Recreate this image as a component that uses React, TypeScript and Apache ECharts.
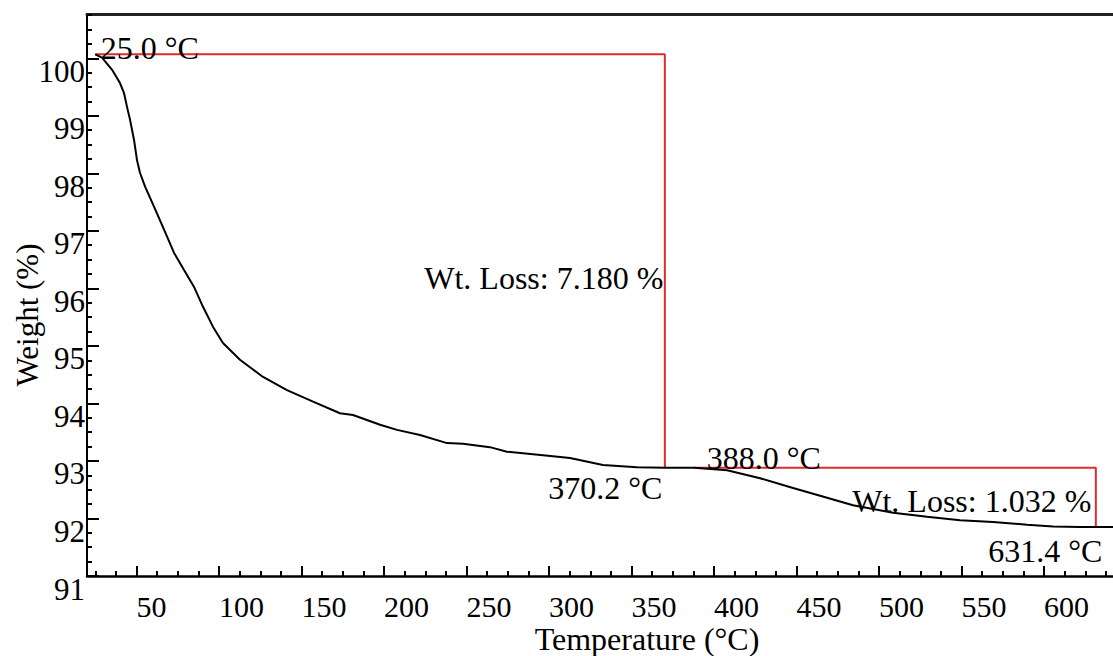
import React, { useEffect, useRef } from "react";
import * as echarts from "echarts";

// ---- Data ----
const temps = [25, 29.1, 35.2, 40, 42.4, 44.2, 46.1, 48.5, 50.3, 52.1, 55.2, 60.6, 66.7, 72.7, 78.8, 84.8, 90.3, 96.4, 102.4, 112.7, 126.7, 141.2, 157, 173.3, 181.2, 197.6, 207.9, 221.8, 238.2, 247.9, 264.2, 274.5, 296.4, 312.7, 332.7, 353.3, 370.2, 388, 407.9, 427.9, 447.9, 468.5, 484.2, 508.5, 529.1, 549.1, 569.1, 589.7, 605.5, 621.8, 631.4, 641.8];
const weights = [100.07, 100.01, 99.8, 99.57, 99.4, 99.16, 98.93, 98.58, 98.23, 98.01, 97.77, 97.42, 97.02, 96.62, 96.32, 96.03, 95.68, 95.33, 95.05, 94.76, 94.46, 94.23, 94.03, 93.83, 93.8, 93.63, 93.54, 93.45, 93.31, 93.3, 93.24, 93.16, 93.1, 93.05, 92.93, 92.89, 92.88, 92.88, 92.84, 92.7, 92.53, 92.36, 92.23, 92.1, 92.03, 91.97, 91.94, 91.89, 91.86, 91.85, 91.85, 91.85];

const loss1X = [25, 370.2, 370.2];
const loss1Y = [100.07, 100.07, 92.88];
const loss2X = [388, 631.4, 631.4];
const loss2Y = [92.88, 92.88, 91.85];

const annotationTexts = ["25.0 °C", "Wt. Loss: 7.180 %", "370.2 °C", "388.0 °C", "Wt. Loss: 1.032 %", "631.4 °C"];
const annotationT = [25, 370.2, 370.2, 388, 631.4, 631.4];
const annotationW = [100.07, 96.18, 92.88, 92.88, 91.85, 91.85];

const xMajorTicks = [50, 100, 150, 200, 250, 300, 350, 400, 450, 500, 550, 600];
const xMinorTicks = [25, 37.5, 50, 62.5, 75, 87.5, 100, 112.5, 125, 137.5, 150, 162.5, 175, 187.5, 200, 212.5, 225, 237.5, 250, 262.5, 275, 287.5, 300, 312.5, 325, 337.5, 350, 362.5, 375, 387.5, 400, 412.5, 425, 437.5, 450, 462.5, 475, 487.5, 500, 512.5, 525, 537.5, 550, 562.5, 575, 587.5, 600, 612.5, 625, 637.5];
const yMajorTicks = [91, 92, 93, 94, 95, 96, 97, 98, 99, 100];
const yMinorTicks = [91, 91.25, 91.5, 91.75, 92, 92.25, 92.5, 92.75, 93, 93.25, 93.5, 93.75, 94, 94.25, 94.5, 94.75, 95, 95.25, 95.5, 95.75, 96, 96.25, 96.5, 96.75, 97, 97.25, 97.5, 97.75, 98, 98.25, 98.5, 98.75, 99, 99.25, 99.5, 99.75, 100, 100.25, 100.5, 100.75];

const xTitle = "Temperature (°C)";
const yTitle = "Weight (%)";

const X_MIN = 20;
const X_MAX = 641.8;
const Y_MIN = 91;
const Y_MAX = 100.77;

const FONT = '"Liberation Serif", "Times New Roman", serif';
const TEXT = "#000";
const RED = "#e02b2b";

const labelLayouts: any[] = [
  { position: "right", distance: 5, offset: [0, -6] },
  { position: "left", distance: 1, offset: [0, 0] },
  { position: "left", distance: 2, offset: [0, 20] },
  { position: "right", distance: 12, offset: [0, -10] },
  { position: "left", distance: 4, offset: [0, -26] },
  { position: "left", distance: 0, offset: [7, 24] },
];

export default function App() {
  const ref = useRef<HTMLDivElement>(null);
  useEffect(() => {
    const chart = echarts.init(ref.current!, null, { renderer: "svg" });
    const curve = temps.map((t, i) => [t, weights[i]]);
    const loss1 = loss1X.map((t, i) => [t, loss1Y[i]]);
    const loss2 = loss2X.map((t, i) => [t, loss2Y[i]]);
    const annotations = annotationTexts.map((txt, i) => ({
      name: txt,
      value: [annotationT[i], annotationW[i]],
      label: { show: true, formatter: txt, ...labelLayouts[i] },
    }));

    const hiddenAxisCommon = {
      axisLabel: { show: false },
      splitLine: { show: false },
    };

    chart.setOption({
      animation: false,
      backgroundColor: "#fff",
      grid: { left: 87, right: 0, top: 14, bottom: 80, containLabel: false, outerBoundsMode: "none" },
      xAxis: [
        {
          type: "value",
          min: X_MIN,
          max: X_MAX,
          position: "bottom",
          axisLine: { show: true, onZero: false, lineStyle: { color: "#000", width: 2.5 } },
          axisTick: { show: true, inside: true, length: 10, customValues: xMajorTicks, lineStyle: { color: "#000", width: 2 } },
          axisLabel: {
            customValues: xMajorTicks,
            align: "left",
            verticalAlign: "middle",
            margin: 30,
            fontFamily: FONT,
            fontSize: 30,
            color: TEXT,
          },
          splitLine: { show: false },
        },
        {
          type: "value",
          min: X_MIN,
          max: X_MAX,
          position: "bottom",
          axisLine: { show: false, onZero: false },
          axisTick: { show: true, inside: true, length: 5, customValues: xMinorTicks, lineStyle: { color: "#000", width: 2 } },
          ...hiddenAxisCommon,
        },
        {
          type: "value",
          min: X_MIN,
          max: X_MAX,
          position: "top",
          axisLine: { show: true, onZero: false, lineStyle: { color: "#222", width: 3 } },
          axisTick: { show: false },
          ...hiddenAxisCommon,
        },
      ],
      yAxis: [
        {
          type: "value",
          min: Y_MIN,
          max: Y_MAX,
          position: "left",
          axisLine: { show: true, onZero: false, lineStyle: { color: "#000", width: 2 } },
          axisTick: { show: true, inside: true, length: 12, customValues: yMajorTicks, lineStyle: { color: "#000", width: 2 } },
          axisLabel: {
            customValues: yMajorTicks,
            formatter: (v: number) => String(Math.round(v)),
            margin: 2,
            verticalAlign: "top",
            lineHeight: 26,
            fontFamily: FONT,
            fontSize: 31,
            color: TEXT,
          },
          splitLine: { show: false },
        },
        {
          type: "value",
          min: Y_MIN,
          max: Y_MAX,
          position: "left",
          axisLine: { show: false, onZero: false },
          axisTick: { show: true, inside: true, length: 5, customValues: yMinorTicks, lineStyle: { color: "#000", width: 2 } },
          ...hiddenAxisCommon,
        },
      ],
      series: [
        {
          type: "line",
          name: "Weight",
          data: curve,
          symbol: "none",
          lineStyle: { color: "#000", width: 2 },
          z: 3,
        },
        {
          type: "line",
          name: "Loss 1",
          data: loss1,
          symbol: "none",
          lineStyle: { color: RED, width: 2 },
          z: 2,
        },
        {
          type: "line",
          name: "Loss 2",
          data: loss2,
          symbol: "none",
          lineStyle: { color: RED, width: 2 },
          z: 2,
        },
        {
          type: "scatter",
          name: "Annotations",
          data: annotations,
          symbolSize: 1,
          itemStyle: { color: "rgba(255,255,255,0)" },
          label: { show: true, fontFamily: FONT, fontSize: 32, color: TEXT, opacity: 1 },
          emphasis: { disabled: true },
          z: 4,
        },
      ],
      graphic: [
        {
          type: "text",
          x: 647,
          y: 639,
          style: { text: xTitle, fontFamily: FONT, fontSize: 32, fill: TEXT, align: "center", verticalAlign: "middle" },
        },
        {
          type: "text",
          x: 27,
          y: 315,
          rotation: Math.PI / 2,
          style: { text: yTitle, fontFamily: FONT, fontSize: 31, fill: TEXT, align: "center", verticalAlign: "middle" },
        },
      ],
    });
    return () => chart.dispose();
  }, []);
  return (
    <div
      ref={ref}
      style={{ position: "fixed", left: 0, top: 0, width: 1113, height: 656, background: "#fff" }}
    />
  );
}
